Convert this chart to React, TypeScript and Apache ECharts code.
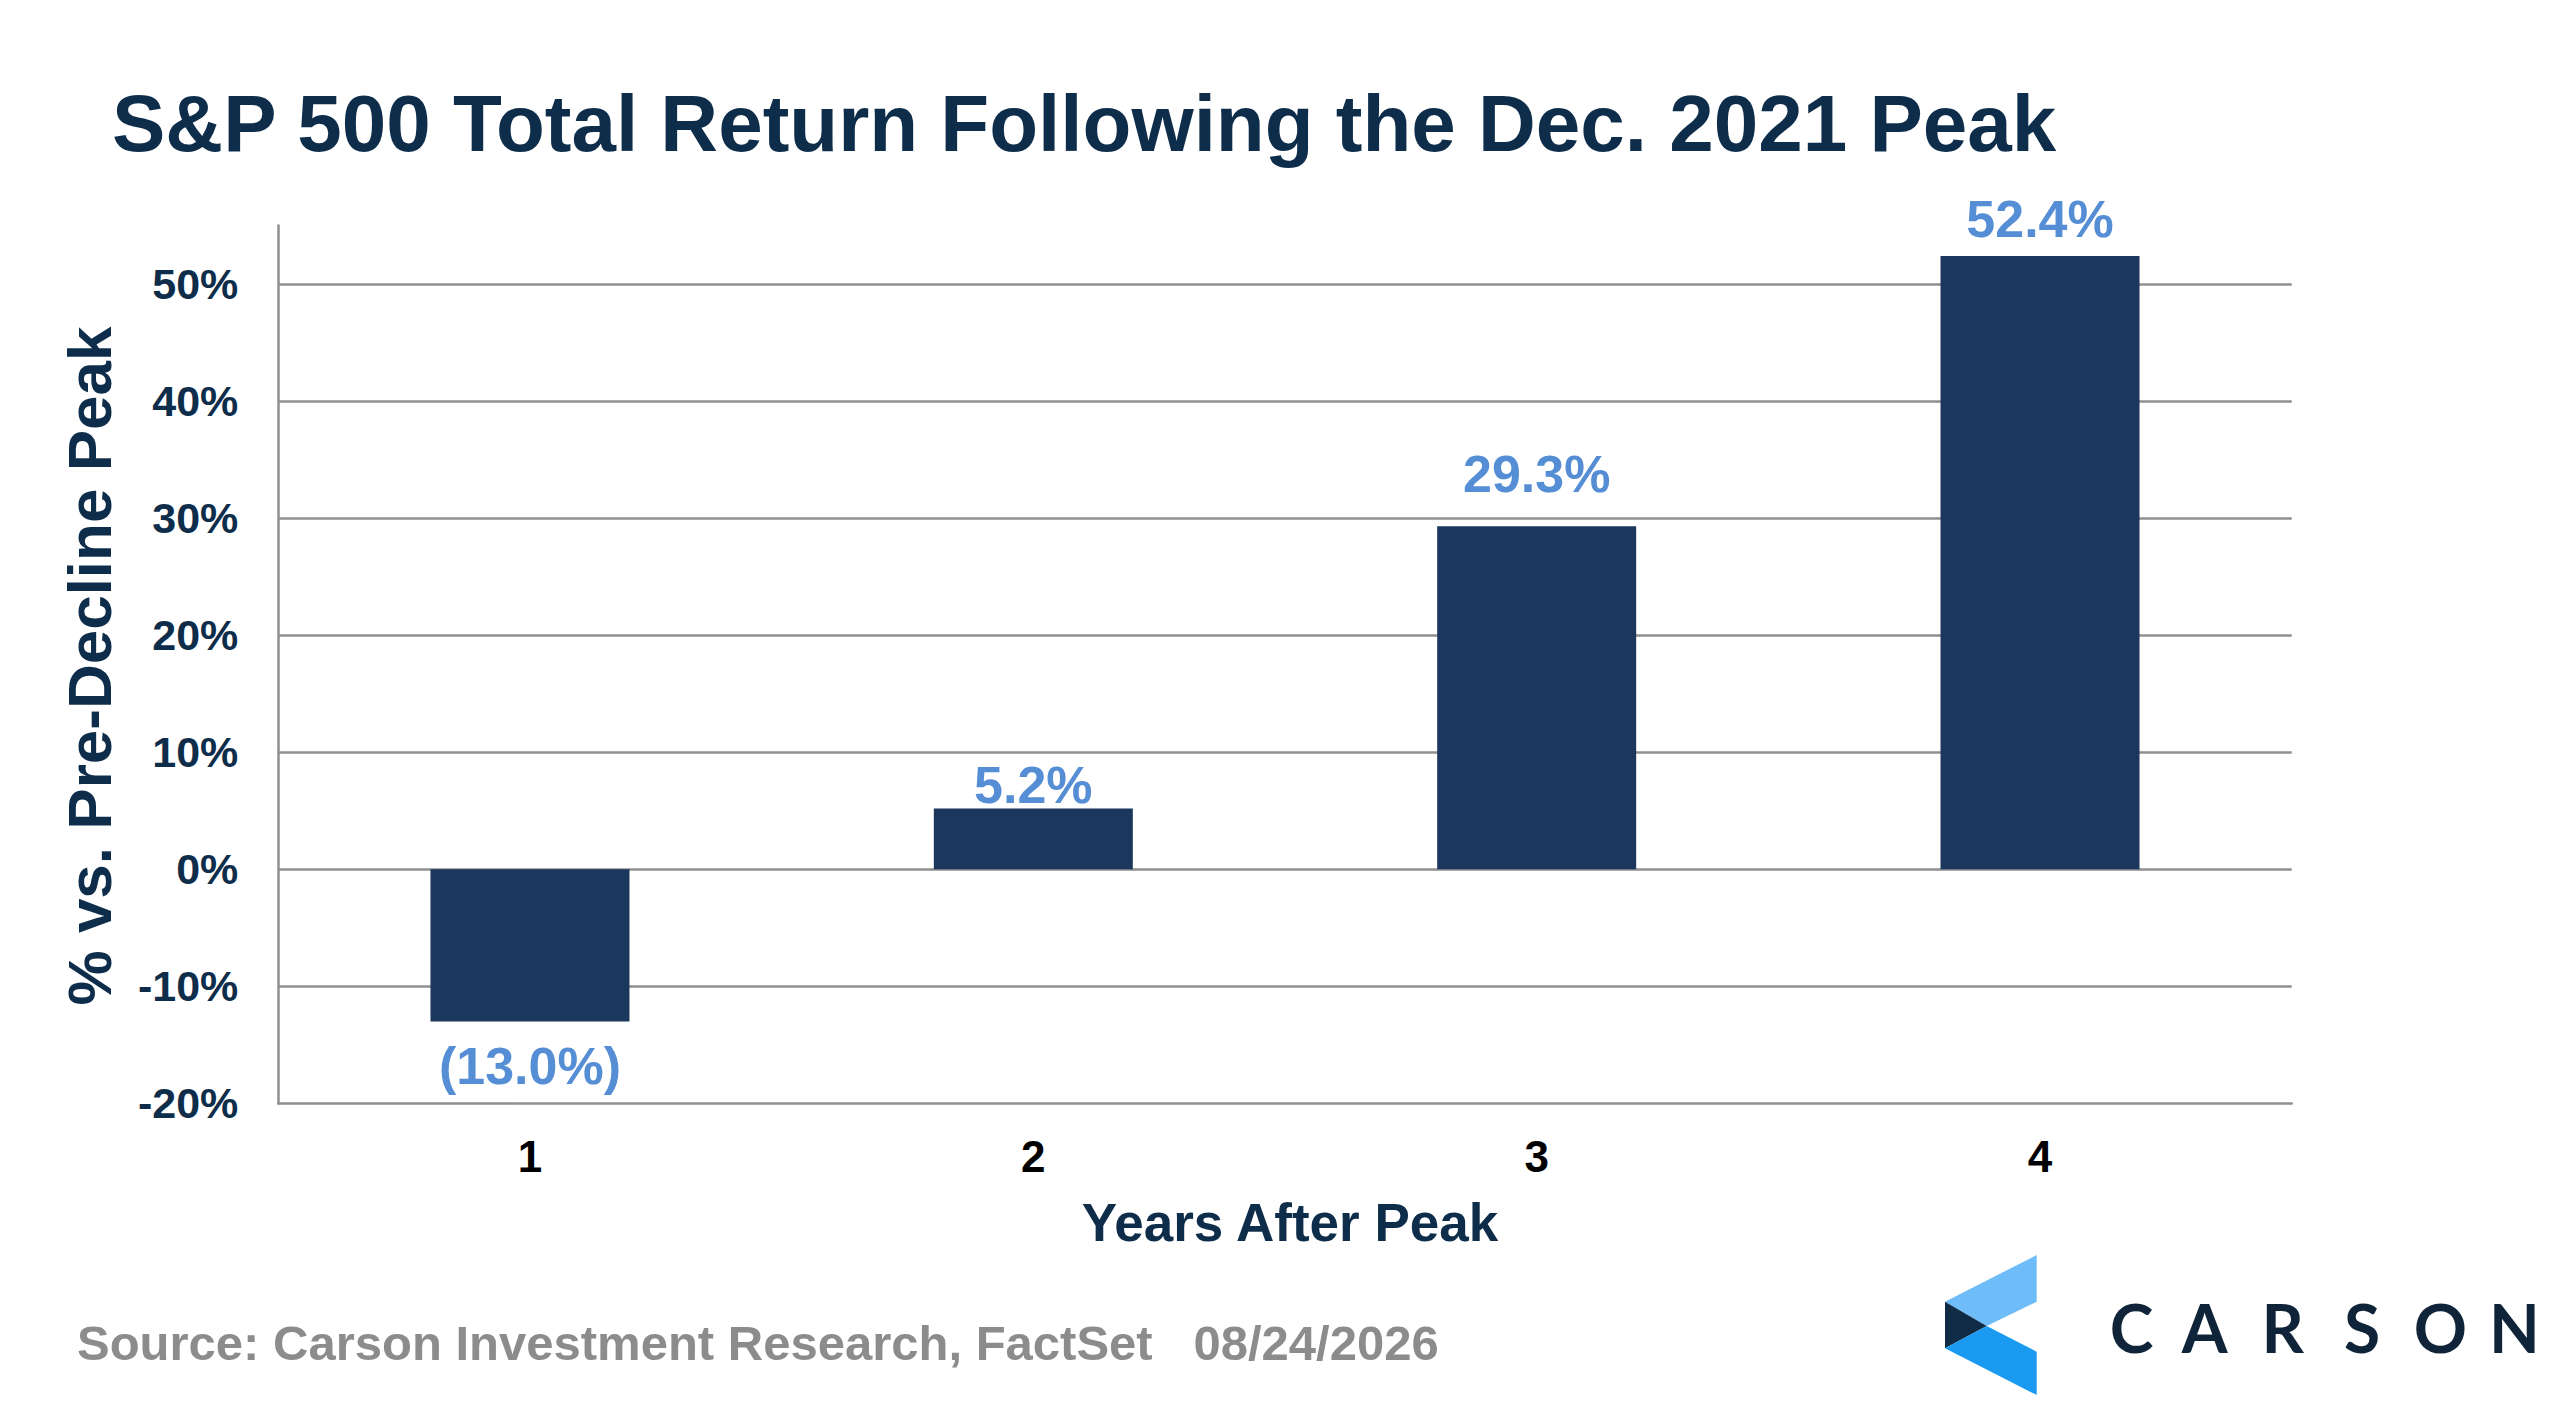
import React, { useEffect, useRef } from "react";
import * as echarts from "echarts";

const categories = ["1", "2", "3", "4"];
const returns = [-13.0, 5.2, 29.3, 52.4];
const yTicks = { min: -20, max: 55, interval: 10 };
const titleText = "S&P 500 Total Return Following the Dec. 2021 Peak";
const yTitle = "% vs. Pre-Decline Peak";
const xTitle = "Years After Peak";
const sourceText = "Source: Carson Investment Research, FactSet   08/24/2026";
const logoLetters = ["C", "A", "R", "S", "O", "N"];

// label gaps (styling) per bar, as in the original layout
const labelGap = [19, -3, 26, 11];

const FONT = "'Liberation Sans', Arial, Helvetica, sans-serif";
const NAVY = "#0e2d4a";
const BAR = "#1b375d";
const LABEL = "#558ed5";
const GRID = "#8f8f8f";

function fmt(v: number): string {
  return v < 0 ? `(${Math.abs(v).toFixed(1)}%)` : `${v.toFixed(1)}%`;
}

export default function App() {
  const ref = useRef<HTMLDivElement>(null);

  useEffect(() => {
    if (!ref.current) return;
    const chart = echarts.init(ref.current, undefined, { renderer: "svg" });

    const logoX = [2131.6, 2204.6, 2282.8, 2362.1, 2440.4, 2514.4];

    const option: any = {
      animation: false,
      backgroundColor: "#ffffff",
      grid: { left: 278.3, top: 225.5, width: 2013.4, height: 877.9, containLabel: false },
      xAxis: {
        type: "category",
        data: categories,
        axisLine: { show: true, onZero: false, lineStyle: { color: GRID, width: 2.5 } },
        axisTick: { show: false },
        axisLabel: {
          margin: 31,
          color: "#000000",
          fontSize: 44,
          fontWeight: "bold",
          fontFamily: FONT,
        },
        splitLine: { show: false },
      },
      yAxis: {
        type: "value",
        min: yTicks.min,
        max: yTicks.max,
        interval: yTicks.interval,
        axisLine: { show: true, lineStyle: { color: GRID, width: 2.5 } },
        axisTick: { show: false },
        axisLabel: {
          margin: 40,
          color: NAVY,
          fontSize: 43,
          fontWeight: "bold",
          fontFamily: FONT,
          showMaxLabel: false,
          formatter: (v: number) => (v > 50 ? "" : `${v}%`),
        },
        splitLine: {
          show: true,
          showMinLine: false,
          showMaxLine: false,
          lineStyle: { color: GRID, width: 2.5 },
        },
      },
      series: [
        {
          type: "bar",
          barWidth: 199,
          itemStyle: { color: BAR },
          data: returns.map((v, i) => ({
            value: v,
            label: {
              show: true,
              position: v < 0 ? "bottom" : "top",
              distance: labelGap[i],
            },
          })),
          label: {
            show: true,
            color: LABEL,
            fontSize: 52,
            fontWeight: "bold",
            fontFamily: FONT,
            formatter: (p: any) => fmt(p.value),
          },
        },
      ],
      graphic: [
        {
          type: "text",
          x: 112,
          y: 123,
          style: {
            text: titleText,
            fill: NAVY,
            font: `bold 80px ${FONT}`,
            textAlign: "left",
            textVerticalAlign: "middle",
          },
        },
        {
          type: "text",
          x: 89,
          y: 666,
          rotation: Math.PI / 2,
          style: {
            text: yTitle,
            fill: NAVY,
            font: `bold 62px ${FONT}`,
            textAlign: "center",
            textVerticalAlign: "middle",
          },
        },
        {
          type: "text",
          x: 1290,
          y: 1222,
          style: {
            text: xTitle,
            fill: NAVY,
            font: `bold 53px ${FONT}`,
            textAlign: "center",
            textVerticalAlign: "middle",
          },
        },
        {
          type: "text",
          x: 77,
          y: 1343,
          style: {
            text: sourceText,
            fill: "#8c8c8c",
            font: `bold 49px ${FONT}`,
            textAlign: "left",
            textVerticalAlign: "middle",
          },
        },
        {
          type: "polygon",
          shape: {
            points: [
              [1945, 1301.7],
              [2036.7, 1255],
              [2036.7, 1301.7],
              [1986.7, 1326],
            ],
          },
          style: { fill: "#6ebdf8" },
        },
        {
          type: "polygon",
          shape: {
            points: [
              [1945, 1301.7],
              [1986.7, 1326],
              [1945, 1348.3],
            ],
          },
          style: { fill: "#0f2b45" },
        },
        {
          type: "polygon",
          shape: {
            points: [
              [1945, 1348.3],
              [1986.7, 1326],
              [2036.7, 1351.7],
              [2036.7, 1395],
            ],
          },
          style: { fill: "#1a9af0" },
        },
        ...logoLetters.map((ch, i) => ({
          type: "text",
          x: logoX[i],
          y: 1327,
          style: {
            text: ch,
            fill: "#0f2438",
            font: `bold 66px Lato, 'Noto Sans', sans-serif`,
            textAlign: "center",
            textVerticalAlign: "middle",
          },
        })),
      ],
    };

    chart.setOption(option);
    return () => chart.dispose();
  }, []);

  return (
    <div
      ref={ref}
      style={{ position: "absolute", left: 0, top: 0, width: 2560, height: 1402, background: "#fff" }}
    />
  );
}
